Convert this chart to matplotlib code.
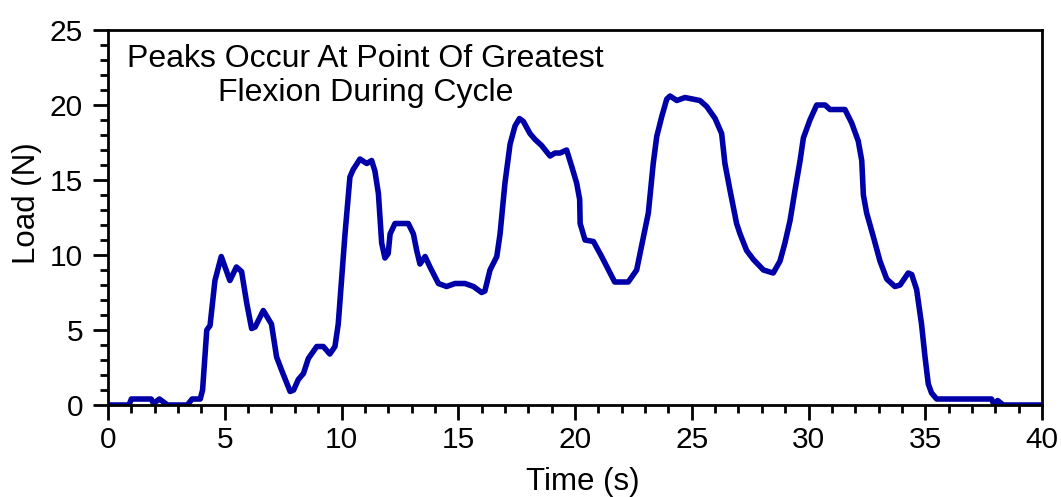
import matplotlib
matplotlib.use("Agg")
import matplotlib.pyplot as plt
from matplotlib.ticker import MultipleLocator

plt.rcParams['font.family'] = ['Liberation Sans', 'DejaVu Sans']

time_s = [0.0, 0.9, 1.0, 1.85, 1.95, 2.2, 2.55, 3.4, 3.6, 3.95, 4.05, 4.23, 4.37, 4.58,
          4.85, 5.22, 5.5, 5.72, 5.94, 6.15, 6.3, 6.65, 7.0, 7.22, 7.44, 7.8, 7.95, 8.15,
          8.37, 8.58, 8.94, 9.22, 9.5, 9.72, 9.86, 10.0, 10.15, 10.36, 10.5, 10.79, 11.08,
          11.29, 11.43, 11.58, 11.72, 11.86, 12.0, 12.08, 12.29, 12.86, 13.08, 13.22, 13.36,
          13.58, 13.79, 14.15, 14.5, 14.86, 15.29, 15.65, 16.0, 16.14, 16.36, 16.65, 16.79,
          17.0, 17.22, 17.43, 17.62, 17.79, 18.07, 18.29, 18.57, 18.93, 19.14, 19.36, 19.64,
          19.86, 20.07, 20.2, 20.22, 20.43, 20.79, 21.14, 21.5, 21.7, 22.28, 22.64, 22.85,
          23.14, 23.35, 23.5, 23.71, 23.93, 24.07, 24.36, 24.71, 25.35, 25.64, 26.0, 26.28,
          26.42, 26.64, 26.92, 27.07, 27.35, 27.64, 28.07, 28.49, 28.78, 28.99, 29.21, 29.42,
          29.64, 29.78, 30.06, 30.35, 30.71, 30.92, 31.56, 31.85, 32.13, 32.28, 32.35, 32.49,
          32.78, 33.06, 33.35, 33.7, 33.92, 34.27, 34.42, 34.63, 34.84, 34.99, 35.13, 35.27,
          35.49, 37.84, 37.95, 38.1, 38.34, 40.0]
load_n = [0.0, 0.0, 0.4, 0.4, 0.1, 0.4, 0.0, 0.0, 0.4, 0.4, 1.0, 5.0, 5.3, 8.3,
          9.9, 8.3, 9.2, 8.9, 6.8, 5.1, 5.2, 6.3, 5.4, 3.2, 2.3, 0.9, 1.0, 1.7,
          2.1, 3.1, 3.9, 3.9, 3.4, 3.9, 5.4, 8.3, 11.4, 15.2, 15.7, 16.4, 16.1,
          16.3, 15.6, 14.1, 10.8, 9.8, 10.1, 11.4, 12.1, 12.1, 11.4, 10.3, 9.4,
          9.9, 9.2, 8.1, 7.9, 8.1, 8.1, 7.9, 7.5, 7.6, 9.0, 9.9, 11.4,
          14.8, 17.4, 18.6, 19.1, 18.9, 18.1, 17.7, 17.3, 16.6, 16.8, 16.8, 17.0,
          15.9, 14.8, 13.7, 12.1, 11.0, 10.9, 9.9, 8.8, 8.2, 8.2, 9.0, 10.6,
          12.8, 16.1, 17.9, 19.2, 20.4, 20.6, 20.3, 20.5, 20.3, 19.9, 19.1, 18.1,
          16.1, 14.3, 12.1, 11.4, 10.3, 9.7, 9.0, 8.8, 9.6, 10.8, 12.3, 14.3,
          16.3, 17.8, 19.0, 20.0, 20.0, 19.7, 19.7, 18.8, 17.6, 16.3, 14.0, 12.8,
          11.2, 9.6, 8.4, 7.9, 8.0, 8.8, 8.7, 7.7, 5.4, 3.2, 1.4, 0.8,
          0.4, 0.4, 0.0, 0.3, 0.0, 0.0]

x_ticks = [0, 5, 10, 15, 20, 25, 30, 35, 40]
y_ticks = [0, 5, 10, 15, 20, 25]
note = "Peaks Occur At Point Of Greatest\nFlexion During Cycle"

fig = plt.figure(figsize=(10.61, 4.97), dpi=100)
ax = fig.add_axes([0.1018, 0.1851, 0.8803, 0.7545])
ax.plot(time_s, load_n, color='#0000A8', lw=4.0, solid_joinstyle='round')
ax.set_xlim(0, 40)
ax.set_ylim(0, 25)
ax.set_xticks(x_ticks)
ax.set_yticks(y_ticks)
ax.xaxis.set_minor_locator(MultipleLocator(1))
ax.yaxis.set_minor_locator(MultipleLocator(1))
ax.tick_params(which='major', direction='out', length=11, width=2, labelsize=21.5, colors='black')
ax.tick_params(axis='x', which='major', pad=4)
ax.tick_params(axis='y', which='major', pad=7)
ax.tick_params(which='minor', direction='out', length=5.5, width=2)
for sp in ax.spines.values():
    sp.set_linewidth(2)
ax.set_xlabel('Time (s)', fontsize=22.5)
ax.set_ylabel('Load (N)', fontsize=22.5)
ax.xaxis.set_label_coords(0.5086, -0.165)
ax.yaxis.set_label_coords(-0.071, 0.539)
ax.text(0.2757, 0.963, note, transform=ax.transAxes, ha='center', va='top',
        fontsize=23, linespacing=1.2, multialignment='center')
fig.savefig('out.png', dpi=100)
